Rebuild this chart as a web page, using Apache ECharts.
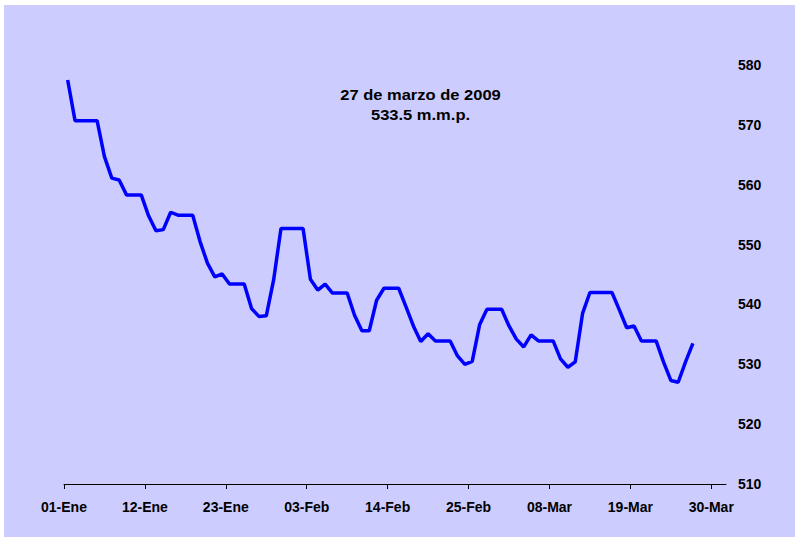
<!DOCTYPE html>
<html>
<head>
<meta charset="utf-8">
<script src="https://cdn.jsdelivr.net/npm/echarts@6/dist/echarts.min.js"></script>
<style>
html,body{margin:0;padding:0;background:#ffffff;}
#frame{position:absolute;left:4px;top:5px;width:791px;height:532px;background:#CCCCFF;}
#chart{position:absolute;left:0;top:0;width:795px;height:546px;}
</style>
</head>
<body>
<div id="frame"></div>
<div id="chart"></div>
<script>
// Daily values, 01-Ene to 27-Mar 2009
const values = [
  577.5, 570.7, 570.7, 570.7, 570.7, 564.7, 561.1, 560.8, 558.3, 558.3,
  558.3, 554.8, 552.3, 552.5, 555.4, 554.9, 554.9, 554.9, 550.5, 546.9,
  544.6, 545.1, 543.4, 543.4, 543.4, 539.3, 538.0, 538.1, 544.1, 552.7,
  552.7, 552.7, 552.7, 544.2, 542.4, 543.4, 541.9, 541.9, 541.9, 538.2,
  535.6, 535.6, 540.7, 542.7, 542.7, 542.7, 539.6, 536.4, 533.8, 535.1,
  533.9, 533.9, 533.9, 531.4, 530.0, 530.5, 536.6, 539.2, 539.2, 539.2,
  536.4, 534.2, 532.9, 534.9, 533.9, 533.9, 533.9, 530.9, 529.5, 530.4,
  538.5, 542.0, 542.0, 542.0, 542.0, 539.1, 536.1, 536.4, 533.9, 533.9,
  533.9, 530.4, 527.3, 527.0, 530.4, 533.5
];
// Axis tick labels every 11 days
const tickLabels = ['01-Ene','12-Ene','23-Ene','03-Feb','14-Feb','25-Feb','08-Mar','19-Mar','30-Mar'];
const tickDays = [0, 11, 22, 33, 44, 55, 66, 77, 88];
const yTicks = [510, 520, 530, 540, 550, 560, 570, 580];
const annotation = ['27 de marzo de 2009', '533.5 m.m.p.'];
const axisDays = 90; // 01-Ene .. 31-Mar
const mesesAbr = ['Ene','Feb','Mar'];
const monthLen = [31, 28, 31];
const categories = [];
for (let m = 0; m < 3; m++) {
  for (let d = 1; d <= monthLen[m]; d++) {
    categories.push((d < 10 ? '0' : '') + d + '-' + mesesAbr[m]);
  }
}

const font = 'Liberation Sans, Arial, Helvetica, sans-serif';
const chart = echarts.init(document.getElementById('chart'), null, {renderer: 'svg'});
chart.setOption({
  backgroundColor: 'transparent',
  animation: false,
  grid: {left: 64, right: 69, top: 65, bottom: 62, containLabel: false},
  graphic: [{
    type: 'text',
    x: 420.5, y: 85,
    scaleX: 1.18,
    style: {
      text: annotation.join('\n'),
      fill: '#000000',
      font: 'bold 14px ' + font,
      textAlign: 'center',
      lineHeight: 20
    }
  }],
  xAxis: [{
    type: 'value',
    min: 0, max: axisDays,
    interval: 11,
    position: 'bottom',
    axisLine: {show: true, lineStyle: {color: '#000000', width: 1}},
    axisTick: {show: true, length: 5, lineStyle: {color: '#000000'}, customValues: tickDays},
    axisLabel: {
      customValues: tickDays,
      formatter: function (v) { const i = tickDays.indexOf(v); return i >= 0 ? tickLabels[i] : ''; },
      color: '#000000', fontWeight: 'bold', fontSize: 14, fontFamily: font, margin: 16
    },
    splitLine: {show: false}
  }, {
    type: 'category',
    data: categories,
    boundaryGap: true,
    show: false,
    position: 'bottom'
  }],
  yAxis: {
    type: 'value',
    position: 'right',
    min: yTicks[0], max: yTicks[yTicks.length - 1], interval: 10,
    axisLine: {show: false},
    axisTick: {show: false},
    splitLine: {show: false},
    axisLabel: {color: '#000000', fontWeight: 'bold', fontSize: 14, fontFamily: font, margin: 12}
  },
  series: [{
    type: 'line',
    xAxisIndex: 1,
    data: values,
    symbol: 'none',
    lineStyle: {color: '#0000FF', width: 3.5},
    z: 3
  }]
});
</script>
</body>
</html>
